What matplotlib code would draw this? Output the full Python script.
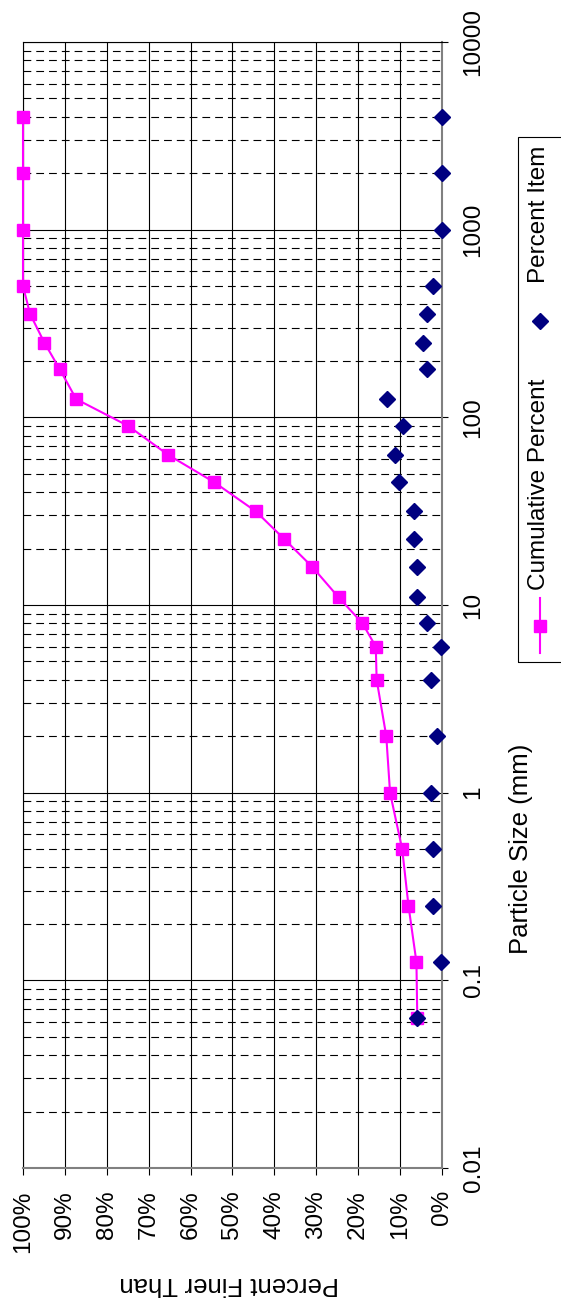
import matplotlib
matplotlib.use("Agg")
import matplotlib.pyplot as plt
from matplotlib.lines import Line2D
from matplotlib.patches import Rectangle
from matplotlib.ticker import LogLocator, NullFormatter

plt.rcParams['font.family'] = ['Liberation Sans', 'DejaVu Sans']

# particle sizes (mm)
sizes = [0.063, 0.125, 0.25, 0.5, 1, 2, 4, 6, 8, 11, 16, 22.4, 31.5,
         45, 63, 90, 125, 180, 250, 355, 500, 1000, 2000, 4000]
# cumulative percent finer than
cumulative = [5.9, 6.1, 8.0, 9.5, 12.4, 13.3, 15.6, 15.8, 19.0, 24.7, 31.0, 37.6, 44.4,
              54.3, 65.3, 74.9, 87.3, 91.2, 94.9, 98.3, 100, 100, 100, 100]
# percent item
item = [5.9, 0.2, 2.1, 2.1, 2.6, 1.1, 2.6, 0.3, 3.6, 5.9, 5.9, 6.8, 6.8,
        10.3, 11.1, 9.3, 13.1, 3.5, 4.5, 3.6, 2.1, 0, 0, 0]

pct_ticks = list(range(0, 101, 10))
size_ticks = [0.01, 0.1, 1, 10, 100, 1000, 10000]
size_labels = ["0.01", "0.1", "1", "10", "100", "1000", "10000"]

W, H = 561, 1302
fig = plt.figure(figsize=(W / 100, H / 100), dpi=100)


def fx(px):
    return px / W


def fy(py):
    return 1 - py / H


ax = fig.add_axes([fx(23), fy(1168), fx(442) - fx(23), fy(42) - fy(1168)])
ax.set_yscale('log')
ax.set_ylim(0.01, 10000)
ax.set_xlim(100, 0)
ax.set_axisbelow(True)

ax.plot(cumulative, sizes, color='#FF00FF', lw=1.5, marker='s', ms=8,
        mec='#FF00FF', zorder=3, clip_on=False)
ax.plot(item, sizes, ls='none', marker='D', ms=8.5, color='#000080',
        zorder=4, clip_on=False)

ax.set_xticks(pct_ticks)
ax.set_xticklabels([f"{v}%" for v in pct_ticks], rotation=90)
ax.yaxis.tick_right()
ax.set_yticks(size_ticks)
ax.set_yticklabels(size_labels, rotation=90, va='center')
ax.yaxis.set_minor_locator(LogLocator(base=10, subs=range(2, 10), numticks=100))
ax.yaxis.set_minor_formatter(NullFormatter())
ax.tick_params(axis='y', which='minor', length=0)
ax.tick_params(axis='x', length=5, width=0.8, pad=11, labelsize=17.5)
ax.tick_params(axis='y', which='major', length=4.3, width=0.8, pad=10.5, labelsize=17.5)

ax.grid(True, which='major', axis='both', color='black', lw=0.8)
ax.grid(True, which='minor', axis='y', color='black', lw=0.8, linestyle=(0, (7, 4.5)))

for s in ['right', 'bottom']:
    ax.spines[s].set_color('#808080')
    ax.spines[s].set_linewidth(1.5)
for s in ['top', 'left']:
    ax.spines[s].set_color('black')
    ax.spines[s].set_linewidth(0.8)

fig.text(fx(521), fy(849), "Particle Size (mm)", rotation=90,
         ha='center', va='center', fontsize=18.5)
fig.text(fx(229), fy(1284), "Percent Finer Than", rotation=180,
         ha='center', va='center', fontsize=18.5)

# legend drawn by hand, rotated like the rest of the chart
fig.add_artist(Rectangle((fx(518), fy(662)), fx(50), fy(137) - fy(662),
                         transform=fig.transFigure, fill=False, ec='black', lw=0.8))
fig.add_artist(Line2D([fx(540), fx(540)], [fy(653), fy(598)], transform=fig.transFigure,
                      color='#FF00FF', lw=1.5))
fig.add_artist(Line2D([fx(540)], [fy(626)], transform=fig.transFigure, marker='s',
                      ms=8, color='#FF00FF'))
fig.text(fx(539), fy(590), "Cumulative Percent", rotation=90,
         ha='center', va='bottom', fontsize=17.5)
fig.add_artist(Line2D([fx(540)], [fy(321)], transform=fig.transFigure, marker='D',
                      ms=8.5, color='#000080'))
fig.text(fx(539), fy(283), "Percent Item", rotation=90,
         ha='center', va='bottom', fontsize=17.5)

fig.savefig("out.png", dpi=100)
